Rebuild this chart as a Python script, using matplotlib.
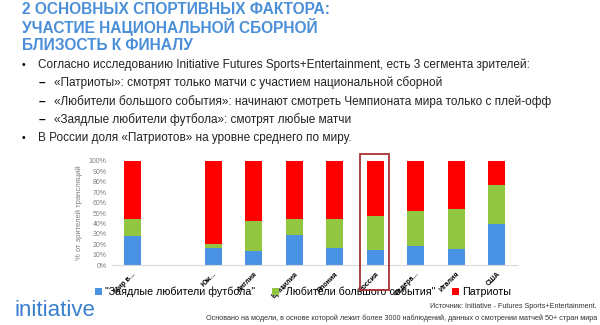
import numpy as np
import matplotlib.pyplot as plt
from matplotlib.patches import Patch, Rectangle

# доли сегментов зрителей по странам
countries = ["Мир в...", "", "Юж...", "Англия", "Бразилия", "Япония",
             "Россия", "Федера...", "Италия", "США"]
hardcore = [0.28, np.nan, 0.16, 0.13, 0.29, 0.16, 0.14, 0.18, 0.15, 0.39]
big_event = [0.16, np.nan, 0.04, 0.29, 0.15, 0.28, 0.33, 0.34, 0.39, 0.38]
patriots = [0.56, np.nan, 0.80, 0.58, 0.56, 0.56, 0.53, 0.48, 0.46, 0.23]
yticks = np.arange(0, 1.01, 0.1)
ytick_labels = ["%d%%" % round(v * 100) for v in yticks]

legend_names = ['"Заядлые любители футбола"', '"Любители большого события"', "Патриоты"]
colors = ["#4a93e4", "#92c540", "#fe0000"]

title_lines = ["2 ОСНОВНЫХ СПОРТИВНЫХ ФАКТОРА:",
               "УЧАСТИЕ НАЦИОНАЛЬНОЙ СБОРНОЙ",
               "БЛИЗОСТЬ К ФИНАЛУ"]
bullets = [
    (0, "Согласно исследованию Initiative Futures Sports+Entertainment, есть 3 сегмента зрителей:"),
    (1, "«Патриоты»: смотрят только матчи с участием национальной сборной"),
    (1, "«Любители большого события»: начинают смотреть Чемпионата мира только с плей-офф"),
    (1, "«Заядлые любители футбола»: смотрят любые матчи"),
    (0, "В России доля «Патриотов» на уровне среднего по миру."),
]

plt.rcParams["font.family"] = ["Liberation Sans", "DejaVu Sans"]

fig = plt.figure(figsize=(6, 3.25), dpi=100)
W, H = 600, 325

# заголовок
for i, line in enumerate(title_lines):
    fig.text(22 / W, 1 - (10 + i * 17.5) / H, line, fontsize=11.2, fontweight="bold",
             color="#4a8fd8", va="center", ha="left")

# список
y_pos = [65, 83, 102, 120, 138]
for (lvl, txt), y in zip(bullets, y_pos):
    if lvl == 0:
        fig.text(22 / W, 1 - y / H, "•", fontsize=7.5, va="center", ha="left")
        fig.text(38 / W, 1 - y / H, txt, fontsize=8.5, va="center", ha="left", color="#222222")
    else:
        fig.text(39 / W, 1 - y / H, "–", fontsize=8.5, fontweight="bold", va="center", ha="left")
        fig.text(54 / W, 1 - y / H, txt, fontsize=8.5, va="center", ha="left", color="#222222")

# график
ax = fig.add_axes([112 / W, 1 - 265 / H, 405 / W, 104 / H])
x = np.arange(len(countries))
bottom = np.zeros(len(countries))
series = [hardcore, big_event, patriots]
handles = []
for vals, col, name in zip(series, colors, legend_names):
    v = np.nan_to_num(np.array(vals, dtype=float))
    ax.bar(x, v, 0.41, bottom=bottom, color=col, edgecolor="none")
    bottom += v
    handles.append(Patch(facecolor=col, label=name))

ax.set_xlim(-0.5, len(countries) - 0.5)
ax.set_ylim(0, 1)
ax.set_yticks(yticks)
ax.set_yticklabels(ytick_labels, fontsize=5, color="#808080")
ax.tick_params(axis="y", length=0, pad=4)
ax.set_xticks(x)
ax.set_xticklabels(countries, rotation=45, ha="right", va="top",
                   rotation_mode="anchor", fontsize=5, fontweight="bold", color="black")
ax.tick_params(axis="x", length=0, pad=4)
ax.set_ylabel("% от зрителей трансляций", fontsize=5.5, color="#808080", labelpad=4)
for side in ["top", "right", "left"]:
    ax.spines[side].set_visible(False)
ax.spines["bottom"].set_color("#d9d9d9")
ax.spines["bottom"].set_linewidth(0.8)
for lbl in ax.get_xticklabels():
    lbl.set_zorder(5)

# рамка вокруг России
fig.add_artist(Rectangle((360 / W, 1 - 290 / H), 29 / W, 136 / H, transform=fig.transFigure,
                         fill=False, edgecolor="#a83232", linewidth=1.3, zorder=6))

leg = fig.legend(handles=handles, loc="center left", bbox_to_anchor=(90 / W, 1 - 292 / H),
                 ncol=3, frameon=False, fontsize=7.7, handlelength=0.6, handleheight=0.6,
                 handletextpad=0.3, columnspacing=1.6, borderpad=0)
leg.set_zorder(1)

# подвал
fig.text(15 / W, 1 - 311 / H, "initiative", fontsize=16, color="#3a7fcf", va="center", ha="left")
fig.text(597 / W, 1 - 306 / H, "Источник: Initiative - Futures Sports+Entertainment.",
         fontsize=5.2, ha="right", va="center", color="#333333")
fig.text(597 / W, 1 - 318 / H,
         "Основано на модели, в основе которой лежит более 3000 наблюдений, данных о смотрении матчей 50+ стран мира",
         fontsize=5.2, ha="right", va="center", color="#333333")

fig.savefig("out.png", dpi=100)
